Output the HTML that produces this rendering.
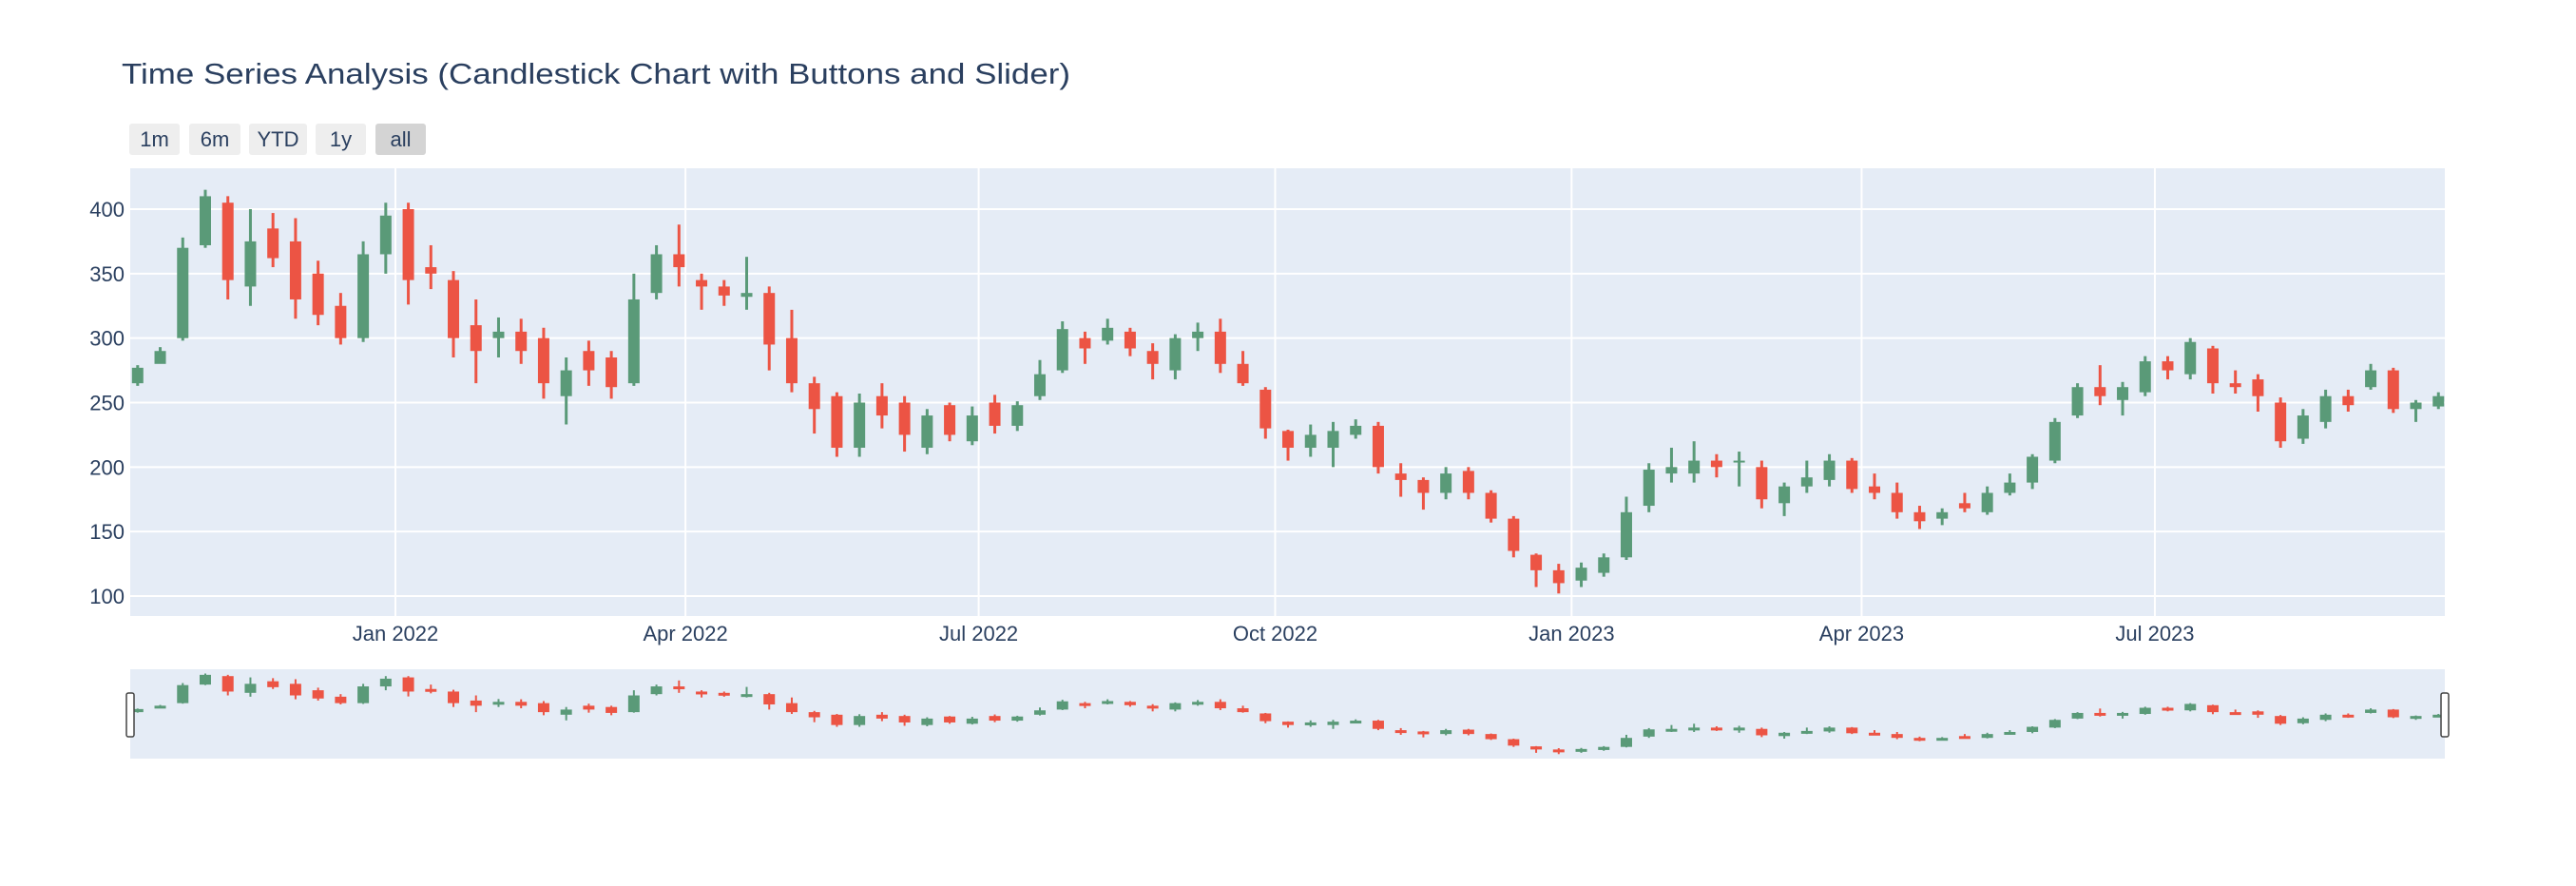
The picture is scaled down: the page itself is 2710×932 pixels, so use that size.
<!DOCTYPE html>
<html><head><meta charset="utf-8">
<style>
html,body{margin:0;padding:0;background:#fff;}
svg{display:block;font-family:"Liberation Sans",Arial,sans-serif;}
</style></head>
<body>
<svg id="chart" width="2710" height="932" viewBox="0 0 2710 932">
  <rect x="0" y="0" width="2710" height="932" fill="#fff"/>
  <text x="128" y="88" font-size="31" fill="#2a3f5f" textLength="998" lengthAdjust="spacingAndGlyphs">Time Series Analysis (Candlestick Chart with Buttons and Slider)</text>
  <g>
    <g><rect x="136" y="130" width="53" height="33" rx="3" fill="#eeeeee"/><text x="162.5" y="154" font-size="22" fill="#2a3f5f" text-anchor="middle">1m</text></g>
    <g><rect x="199" y="130" width="54" height="33" rx="3" fill="#eeeeee"/><text x="226" y="154" font-size="22" fill="#2a3f5f" text-anchor="middle">6m</text></g>
    <g><rect x="262" y="130" width="61" height="33" rx="3" fill="#eeeeee"/><text x="292.5" y="154" font-size="22" fill="#2a3f5f" text-anchor="middle">YTD</text></g>
    <g><rect x="332" y="130" width="53" height="33" rx="3" fill="#eeeeee"/><text x="358.5" y="154" font-size="22" fill="#2a3f5f" text-anchor="middle">1y</text></g>
    <g><rect x="395" y="130" width="53" height="33" rx="3" fill="#d4d4d4"/><text x="421.5" y="154" font-size="22" fill="#2a3f5f" text-anchor="middle">all</text></g>
  </g>
  <defs>
    <clipPath id="mainClip"><rect x="137" y="177" width="2435" height="471"/></clipPath>
    <clipPath id="sliderClip"><rect x="137" y="704" width="2435" height="94"/></clipPath>
  </defs>
  <rect x="137" y="177" width="2435" height="471" fill="#e5ecf6"/>
  <g id="grid"></g>
  <g id="candles" clip-path="url(#mainClip)"></g>
  <g id="axes"></g>
  <rect x="137" y="704" width="2435" height="94" fill="#e5ecf6"/>
  <g id="slider" clip-path="url(#sliderClip)"></g>
  <rect x="133" y="729" width="8" height="46" rx="2" fill="#fff" stroke="#444" stroke-width="1.5"/>
  <rect x="2568" y="729" width="8" height="46" rx="2" fill="#fff" stroke="#444" stroke-width="1.5"/>
</svg>
<script>
const startDate = '2021-10-13';
const opens  = [265,280,300,372,405,340,385,375,350,325,300,365,400,355,345,310,300,305,300,255,290,285,265,335,365,345,340,332,335,300,265,255,215,255,250,215,248,220,250,232,255,275,300,298,305,290,275,300,305,280,260,228,215,215,225,232,195,190,180,197,180,160,132,120,112,118,130,170,195,195,205,205,200,172,185,190,205,185,180,165,160,172,165,180,188,205,240,262,252,258,282,272,292,265,268,250,222,235,255,262,275,245,247];
const highs  = [279,293,378,415,410,400,397,393,360,335,375,405,405,372,352,330,316,315,308,285,298,290,350,372,388,350,345,363,340,322,270,258,257,265,255,245,250,247,256,251,283,313,305,315,308,296,303,312,315,290,262,229,233,235,237,235,203,192,200,200,182,162,133,125,126,133,177,203,215,220,210,212,205,188,205,210,207,195,188,170,168,180,185,195,210,238,265,279,266,286,286,300,294,275,272,254,245,260,260,280,277,252,258];
const lows   = [263,282,298,370,330,325,355,315,310,295,297,350,326,338,285,265,285,280,253,233,263,253,263,330,340,322,325,322,275,258,226,208,208,230,212,210,220,217,226,228,252,273,280,295,286,268,268,290,273,263,222,205,208,200,222,195,177,167,175,175,157,130,107,102,107,115,128,165,188,188,192,185,168,162,180,185,180,175,160,152,155,165,163,178,183,203,238,248,240,255,268,268,257,257,243,215,218,230,243,260,242,235,245];
const closes = [277,290,370,410,345,375,362,330,318,300,365,395,345,350,300,290,305,290,265,275,275,262,330,365,355,340,333,335,295,265,245,215,250,240,225,240,225,240,232,248,272,307,292,308,292,280,300,305,280,265,230,215,225,228,232,200,190,180,195,180,160,135,120,110,122,130,165,198,200,205,200,205,175,185,192,205,183,180,165,158,165,168,180,188,208,235,262,255,262,282,275,297,265,262,255,220,240,255,248,275,245,250,255];
const yTicks = [100,150,200,250,300,350,400];
const xTickDates = ['2022-01-01','2022-04-01','2022-07-01','2022-10-01','2023-01-01','2023-04-01','2023-07-01'];
const xTickLabels = ['Jan 2022','Apr 2022','Jul 2022','Oct 2022','Jan 2023','Apr 2023','Jul 2023'];

const NS='http://www.w3.org/2000/svg';
const DAY=86400000, ORIGIN=Date.UTC(2022,0,1);
function dayOf(s){const p=s.split('-').map(Number);return (Date.UTC(p[0],p[1]-1,p[2])-ORIGIN)/DAY;}
function xScale(d){return 416 + d*3.39;}
function yScale(v){return 627 - (v-100)*1.3567;}
function ySlider(v){return 798 - (v-84.5)*0.2708;}
function mk(tag,attrs,parent){const e=document.createElementNS(NS,tag);for(const k in attrs)e.setAttribute(k,attrs[k]);parent.appendChild(e);return e;}

const grid=document.getElementById('grid'), axes=document.getElementById('axes');
const candles=document.getElementById('candles'), slider=document.getElementById('slider');

yTicks.forEach(v=>{
  const y=yScale(v);
  const l=mk('line',{x1:137,x2:2572,y1:y,y2:y,stroke:'#fff','stroke-width':2},grid);
  
  
  const t=mk('text',{x:131,y:y+8,'font-size':22,fill:'#2a3f5f','text-anchor':'end'},axes);
  t.textContent=v;
  
  
});
xTickDates.forEach((d,i)=>{
  const x=xScale(dayOf(d));
  const l=mk('line',{x1:x,x2:x,y1:177,y2:648,stroke:'#fff','stroke-width':2},grid);
  
  
  const t=mk('text',{x:x,y:674,'font-size':22,fill:'#2a3f5f','text-anchor':'middle'},axes);
  t.textContent=xTickLabels[i];
  
  
});

const d0=dayOf(startDate);
closes.forEach((c,i)=>{
  const o=opens[i],h=highs[i],lo=lows[i];
  const x=xScale(d0+7*i);
  const up=c>=o;
  const col=up?'#5a9a78':'#ec5444';
  const g=mk('g',{},candles);
  
  
  mk('line',{x1:x,x2:x,y1:yScale(h),y2:yScale(lo),stroke:col,'stroke-width':3},g);
  const top=yScale(Math.max(o,c)), bot=yScale(Math.min(o,c));
  mk('rect',{x:x-6,y:top,width:12,height:Math.max(2,bot-top),fill:col},g);
  const s=mk('g',{},slider);
  
  
  const st=ySlider(Math.max(o,c)), sb=ySlider(Math.min(o,c));
  mk('line',{x1:x,x2:x,y1:ySlider(h),y2:ySlider(lo),stroke:col,'stroke-width':2},s);
  mk('rect',{x:x-6,y:st,width:12,height:Math.max(3,sb-st),fill:col},s);
});
</script>
</body></html>
